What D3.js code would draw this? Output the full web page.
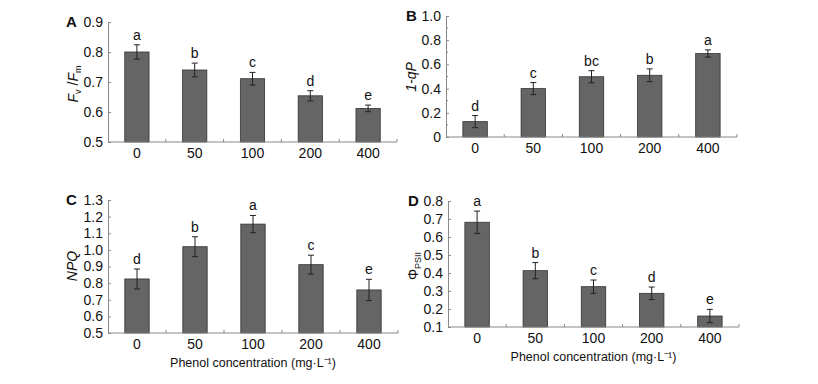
<!DOCTYPE html>
<html>
<head>
<meta charset="utf-8">
<script src="https://cdn.jsdelivr.net/npm/d3@7"></script>
<style>
  body { margin: 0; background: #fff; }
  svg { font-family: "Liberation Sans", Arial, sans-serif; }
</style>
</head>
<body>
<svg id="chart" width="818" height="384"></svg>
<script>
const concentrations = ['0', '50', '100', '200', '400'];

// A: Fv/Fm
const fvfmMean = [0.800, 0.740, 0.711, 0.654, 0.612];
const fvfmErr = [0.024, 0.023, 0.021, 0.017, 0.011];
const fvfmLetters = ['a', 'b', 'c', 'd', 'e'];
const fvfmTicks = [0.5, 0.6, 0.7, 0.8, 0.9];

// B: 1-qP
const qpMean = [0.127, 0.400, 0.498, 0.510, 0.690];
const qpErr = [0.05, 0.05, 0.05, 0.053, 0.03];
const qpLetters = ['d', 'c', 'bc', 'b', 'a'];
const qpTicks = [0, 0.2, 0.4, 0.6, 0.8, 1.0];

// C: NPQ
const npqMean = [0.825, 1.019, 1.155, 0.911, 0.759];
const npqErr = [0.06, 0.06, 0.052, 0.057, 0.064];
const npqLetters = ['d', 'b', 'a', 'c', 'e'];
const npqTicks = [0.5, 0.6, 0.7, 0.8, 0.9, 1.0, 1.1, 1.2, 1.3];

// D: PhiPSII
const psiiMean = [0.682, 0.413, 0.324, 0.287, 0.161];
const psiiErr = [0.062, 0.045, 0.037, 0.035, 0.037];
const psiiLetters = ['a', 'b', 'c', 'd', 'e'];
const psiiTicks = [0.1, 0.2, 0.3, 0.4, 0.5, 0.6, 0.7, 0.8];

const svg = d3.select('#chart');

function drawPanel(cfg) {
  const x = d3.scaleBand().domain(concentrations).range([cfg.left, cfg.right]).paddingInner(0.58).paddingOuter(0.29);
  const y = d3.scaleLinear().domain(cfg.domain).range([cfg.bottom, cfg.top]);
  const g = svg.append('g');

  // bars
  g.selectAll('rect.bar').data(cfg.mean).join('rect')
    .attr('class', 'bar')
    .attr('x', (d, i) => x(concentrations[i]))
    .attr('width', x.bandwidth())
    .attr('y', d => y(d))
    .attr('height', d => y(cfg.domain[0]) - y(d))
    .attr('fill', '#656565')
    .attr('stroke', '#333')
    .attr('stroke-width', 0.8);

  // error bars
  const eb = g.selectAll('g.err').data(cfg.mean).join('g').attr('class', 'err')
    .attr('stroke', '#222').attr('stroke-width', 1);
  eb.append('line')
    .attr('x1', (d, i) => x(concentrations[i]) + x.bandwidth() / 2)
    .attr('x2', (d, i) => x(concentrations[i]) + x.bandwidth() / 2)
    .attr('y1', (d, i) => y(d - cfg.err[i]))
    .attr('y2', (d, i) => y(d + cfg.err[i]));
  [-1, 1].forEach(s => {
    eb.append('line')
      .attr('x1', (d, i) => x(concentrations[i]) + x.bandwidth() / 2 - 3)
      .attr('x2', (d, i) => x(concentrations[i]) + x.bandwidth() / 2 + 3)
      .attr('y1', (d, i) => y(d + s * cfg.err[i]))
      .attr('y2', (d, i) => y(d + s * cfg.err[i]));
  });

  // significance letters
  g.selectAll('text.sig').data(cfg.mean).join('text')
    .attr('class', 'sig')
    .attr('x', (d, i) => x(concentrations[i]) + x.bandwidth() / 2)
    .attr('y', (d, i) => y(d + cfg.err[i]) - 5)
    .attr('text-anchor', 'middle')
    .attr('font-size', 14)
    .attr('fill', '#111')
    .text((d, i) => cfg.letters[i]);

  // y axis
  const yAxis = d3.axisLeft(y).tickValues(cfg.ticks).tickSize(-3).tickPadding(5)
    .tickFormat(d => d === 0 ? '0' : d3.format('.1f')(d));
  const ya = g.append('g').attr('transform', `translate(${cfg.left},0)`).call(yAxis);
  ya.select('.domain').attr('stroke', '#888');
  ya.selectAll('.tick line').attr('stroke', '#888');
  ya.selectAll('.tick text').attr('font-size', 14).attr('fill', '#111').attr('font-family', null);
  if (cfg.minor) {
    ya.selectAll('line.minor').data(cfg.minor).join('line')
      .attr('class', 'minor')
      .attr('x1', 0).attr('x2', 2)
      .attr('y1', d => y(d)).attr('y2', d => y(d))
      .attr('stroke', '#888');
  }

  // x axis
  const xa = g.append('g').attr('transform', `translate(0,${cfg.bottom})`);
  xa.append('line').attr('x1', cfg.left).attr('x2', cfg.right)
    .attr('stroke', '#888');
  xa.selectAll('line.sep').data(concentrations).join('line')
    .attr('class', 'sep')
    .attr('x1', (d, i) => cfg.left + (i + 1) * (cfg.right - cfg.left) / concentrations.length)
    .attr('x2', (d, i) => cfg.left + (i + 1) * (cfg.right - cfg.left) / concentrations.length)
    .attr('y1', 0).attr('y2', -3)
    .attr('stroke', '#888');
  xa.selectAll('text').data(concentrations).join('text')
    .attr('x', d => x(d) + x.bandwidth() / 2)
    .attr('y', 16)
    .attr('text-anchor', 'middle')
    .attr('font-size', 14)
    .attr('fill', '#111')
    .text(d => d);

  // panel letter
  svg.append('text')
    .attr('x', cfg.letterPos[0]).attr('y', cfg.letterPos[1])
    .attr('font-size', 15).attr('font-weight', 'bold').attr('fill', '#111')
    .text(cfg.letter);

  // y title
  const yt = svg.append('text')
    .attr('transform', `translate(${cfg.ytitlePos[0]},${cfg.ytitlePos[1]}) rotate(-90)`)
    .attr('text-anchor', 'middle')
    .attr('font-size', 14)
    .attr('fill', '#111');
  cfg.ytitle.forEach(p => {
    const t = yt.append('tspan').text(p.t);
    if (p.i) t.attr('font-style', 'italic');
    if (p.sub) t.attr('font-size', 9).attr('baseline-shift', '-30%');
  });

  if (cfg.xtitle) {
    svg.append('text')
      .attr('x', (cfg.left + cfg.right) / 2)
      .attr('y', cfg.bottom + 34)
      .attr('text-anchor', 'middle')
      .attr('font-size', 12.5)
      .attr('fill', '#111')
      .text('Phenol concentration (mg\u00b7L\u207b\u00b9)');
  }
}

drawPanel({
  letter: 'A', letterPos: [66, 27],
  left: 108, right: 397, top: 22, bottom: 142, domain: [0.5, 0.9],
  mean: fvfmMean, err: fvfmErr, letters: fvfmLetters, ticks: fvfmTicks,
  ytitlePos: [78, 84],
  ytitle: [{t: 'F', i: true}, {t: 'v', sub: true}, {t: ' /'}, {t: 'F', i: true}, {t: 'm', sub: true}]
});

drawPanel({
  letter: 'B', letterPos: [406, 21],
  left: 446, right: 737, top: 16, bottom: 137, domain: [0, 1.0],
  mean: qpMean, err: qpErr, letters: qpLetters, ticks: qpTicks,
  minor: [0.1, 0.3, 0.5, 0.7, 0.9],
  ytitlePos: [416, 77],
  ytitle: [{t: '1-qP', i: true}]
});

drawPanel({
  letter: 'C', letterPos: [66, 205],
  left: 108, right: 398, top: 200, bottom: 333, domain: [0.5, 1.3],
  mean: npqMean, err: npqErr, letters: npqLetters, ticks: npqTicks,
  ytitlePos: [77, 266],
  ytitle: [{t: 'NPQ', i: true}],
  xtitle: true
});

drawPanel({
  letter: 'D', letterPos: [408, 206],
  left: 448, right: 739, top: 201, bottom: 327, domain: [0.1, 0.8],
  mean: psiiMean, err: psiiErr, letters: psiiLetters, ticks: psiiTicks,
  ytitlePos: [418, 266],
  ytitle: [{t: '\u03a6'}, {t: 'PSII', sub: true}],
  xtitle: true
});
</script>
</body>
</html>
